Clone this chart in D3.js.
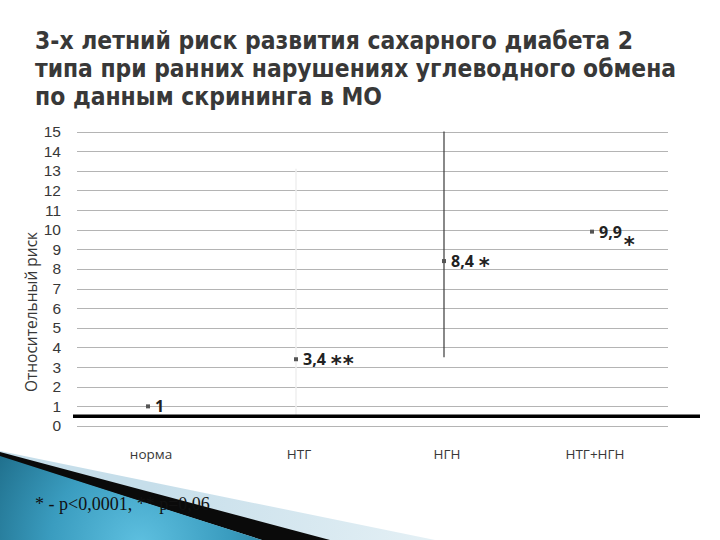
<!DOCTYPE html>
<html>
<head>
<meta charset="utf-8">
<script src="https://cdn.jsdelivr.net/npm/d3@7"></script>
<style>
  body { margin: 0; background: #fff; }
  svg { display: block; }
</style>
</head>
<body>
<script>
// data
var categories = ["норма", "НТГ", "НГН", "НТГ+НГН"];
var risk = [1, 3.4, 8.4, 9.9];
var riskLabels = ["1", "3,4", "8,4", "9,9"];
var stars = ["", "**", "*", "*"];
var ciLow = [null, 0.5, 3.5, null];
var ciHigh = [null, 13.1, 15, null];
var yTicks = d3.range(0, 16);
var refLine = 0.5;

var titleLines = [
  "3-х летний риск развития  сахарного диабета 2",
  "типа при ранних нарушениях углеводного обмена",
  "по данным скрининга в МО"
];
var titleWidths = [598, 641, 347];

var width = 720, height = 540;

var svg = d3.select("body").append("svg")
    .attr("width", width)
    .attr("height", height);

var defs = svg.append("defs");

var blueGrad = defs.append("radialGradient")
    .attr("id", "blueGrad")
    .attr("gradientUnits", "userSpaceOnUse")
    .attr("cx", 140).attr("cy", 545).attr("r", 180);
blueGrad.append("stop").attr("offset", "0%").attr("stop-color", "#5ec0e0");
blueGrad.append("stop").attr("offset", "50%").attr("stop-color", "#3a9cbf");
blueGrad.append("stop").attr("offset", "100%").attr("stop-color", "#1b6884");

var lightGrad = defs.append("linearGradient")
    .attr("id", "lightGrad")
    .attr("gradientUnits", "userSpaceOnUse")
    .attr("x1", 150).attr("y1", 500).attr("x2", 430).attr("y2", 540);
lightGrad.append("stop").attr("offset", "0%").attr("stop-color", "#c6deea");
lightGrad.append("stop").attr("offset", "100%").attr("stop-color", "#e4f0f5");

////////////// TITLE

svg.append("g").selectAll("text")
    .data(titleLines)
    .enter().append("text")
    .attr("x", 35)
    .attr("y", function (d, i) { return 49 + i * 28; })
    .attr("textLength", function (d, i) { return titleWidths[i]; })
    .attr("lengthAdjust", "spacingAndGlyphs")
    .style("font-family", "'DejaVu Sans Condensed', 'DejaVu Sans', sans-serif")
    .style("font-stretch", "condensed")
    .style("font-weight", "bold")
    .style("font-size", "24px")
    .style("fill", "#383838")
    .text(function (d) { return d; });

////////////// SCALES

var y = d3.scaleLinear().domain([0, 15]).range([426, 131.5]);
var x = d3.scaleBand().domain(categories).range([76, 668]);
var cx = function (i) { return x(categories[i]) + x.bandwidth() / 2; };

// gridlines
svg.append("g").selectAll("line")
    .data(yTicks)
    .enter().append("line")
    .attr("x1", 77).attr("x2", 668)
    .attr("y1", function (d) { return Math.round(y(d)) + 0.5; })
    .attr("y2", function (d) { return Math.round(y(d)) + 0.5; })
    .style("stroke", "#b4b4b4")
    .style("stroke-width", 1);

// y axis
var yAxis = d3.axisLeft(y).tickValues(yTicks).tickSize(0).tickPadding(0);
var gy = svg.append("g").attr("transform", "translate(61,0)").call(yAxis);
gy.select(".domain").remove();
gy.selectAll("text")
    .style("font-family", "'Liberation Sans', sans-serif")
    .style("font-size", "15.5px")
    .style("fill", "#383838");

svg.append("text")
    .attr("transform", "translate(37,312) rotate(-90)")
    .style("text-anchor", "middle")
    .style("font-family", "'Open Sans', sans-serif")
    .style("font-size", "15.5px")
    .style("fill", "#383838")
    .text("Относительный риск");

// x axis
var xAxis = d3.axisBottom(x).tickSize(0).tickPadding(0);
var gx = svg.append("g").attr("transform", "translate(1,449)").call(xAxis);
gx.select(".domain").remove();
gx.selectAll("text")
    .style("font-family", "'Open Sans', sans-serif")
    .style("font-size", "13.5px")
    .style("fill", "#383838");

// confidence lines
svg.append("g").selectAll("line")
    .data(d3.range(categories.length).filter(function (i) { return ciLow[i] !== null; }))
    .enter().append("line")
    .attr("x1", function (i) { return cx(i) - 2; })
    .attr("x2", function (i) { return cx(i) - 2; })
    .attr("y1", function (i) { return y(ciHigh[i]); })
    .attr("y2", function (i) { return y(ciLow[i]); })
    .style("stroke", function (i) { return i === 1 ? "#efefef" : "#3a3a3a"; })
    .style("stroke-width", function (i) { return i === 1 ? 1.5 : 1.2; });

// reference line
svg.append("line")
    .attr("x1", 73).attr("x2", 700)
    .attr("y1", y(refLine)).attr("y2", y(refLine))
    .style("stroke", "#000")
    .style("stroke-width", 3.5);

// points
svg.append("g").selectAll("rect")
    .data(risk)
    .enter().append("rect")
    .attr("x", function (d, i) { return cx(i) - 4; })
    .attr("y", function (d) { return y(d) - 2; })
    .attr("width", 4).attr("height", 4)
    .style("fill", "#555");

// value labels
var lab = svg.append("g").selectAll("text")
    .data(risk)
    .enter().append("text")
    .attr("x", function (d, i) { return cx(i) + 5; })
    .attr("y", function (d) { return y(d) + 6; })
    .style("font-family", "'Open Sans', sans-serif")
    .style("font-weight", "bold")
    .style("font-size", "16px")
    .style("fill", "#222");

lab.append("tspan").text(function (d, i) { return riskLabels[i]; });
lab.append("tspan")
    .attr("dx", function (d, i) { return i === 3 ? 2 : 5; })
    .attr("dy", function (d, i) { return i === 3 ? 14 : 6; })
    .style("font-family", "'DejaVu Sans', sans-serif")
    .style("font-size", "21px")
    .style("font-weight", "bold")
    .style("letter-spacing", "1px")
    .text(function (d, i) { return stars[i]; });

////////////// CORNER DECORATION

svg.append("polygon")
    .attr("points", "0,451 435,540 0,540")
    .style("fill", "url(#lightGrad)");
svg.append("polygon")
    .attr("points", "0,452 330,540 262,540 0,457")
    .style("fill", "#0a0a0a");
svg.append("polygon")
    .attr("points", "0,456 262,540 0,540")
    .style("fill", "url(#blueGrad)");

svg.append("text")
    .attr("x", 35)
    .attr("y", 510)
    .style("font-family", "'Liberation Serif', serif")
    .style("font-size", "18px")
    .style("fill", "#111")
    .text("* - p<0,0001, ** p=0,06");
</script>
</body>
</html>
